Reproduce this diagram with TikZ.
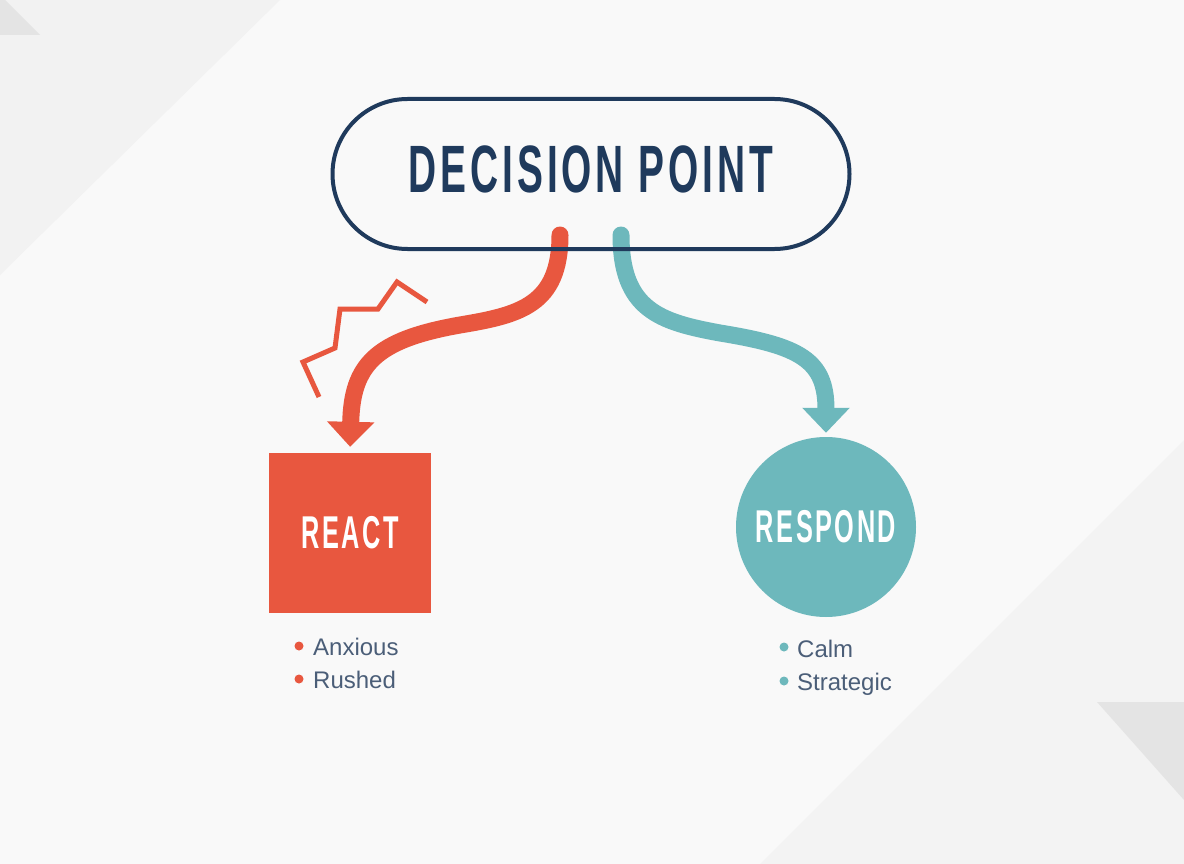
\documentclass[tikz,border=0pt]{standalone}
\usepackage{fontspec}
\setmainfont{Liberation Sans}
\usepackage{graphicx}
\usetikzlibrary{arrows.meta,positioning,shapes.geometric}
\definecolor{navy}{HTML}{1F3A5C}
\definecolor{reactred}{HTML}{E8573F}
\definecolor{respondteal}{HTML}{6DB8BC}
\definecolor{slate}{HTML}{4B5E78}
\definecolor{bgbase}{HTML}{F9F9F9}
\definecolor{bgleft}{HTML}{F2F2F2}
\definecolor{bgright}{HTML}{F3F3F3}
\definecolor{bgshade}{HTML}{E4E4E4}
\newcommand{\heading}[2]{\scalebox{#1}[1]{\addfontfeature{LetterSpace=10}\bfseries #2}}

\begin{document}
\begin{tikzpicture}[x=1pt, y=-1pt, >=stealth,
      decision/.style={draw=navy, line width=4pt, rounded corners=75pt, minimum width=517pt, minimum height=150pt, inner sep=0pt, text=navy, text height=48pt, text depth=10pt, font=\fontsize{67}{67}\selectfont},
      reactbox/.style={fill=reactred, minimum width=162pt, minimum height=160pt, inner sep=0pt, text=white, font=\fontsize{46}{46}\selectfont},
      respondbox/.style={circle, fill=respondteal, minimum size=180pt, inner sep=0pt, text=white, font=\fontsize{46}{46}\selectfont},
      bullet/.style={circle, inner sep=0pt, minimum size=9pt},
      item/.style={anchor=base west, inner sep=0pt, text=slate, font=\fontsize{24}{24}\selectfont},
      flow/.style={line width=17pt, line cap=round, -{Triangle[width=46pt,length=25pt]}}]
      % background
      \fill[bgbase] (0,0) rectangle (1184,864);
      \fill[bgleft] (0,0) -- (280,0) -- (0,275) -- cycle;
      \fill[bgshade] (0,0) -- (5,0) -- (40,35) -- (0,35) -- cycle;
      \fill[bgright] (1184,440) -- (760,864) -- (1184,864) -- cycle;
      \fill[bgshade] (1097,702) -- (1184,702) -- (1184,800) -- cycle;
      \useasboundingbox (0,0) rectangle (1184,864);
      \node[reactbox] (react) at (350,533) {\heading{0.55}{REACT}};
      \node[respondbox] (respond) at (826,527) {\heading{0.55}{RESPOND}};
      \coordinate (dpL) at (560,235);
      \coordinate (dpR) at (621,235);
      \draw[flow, reactred, shorten >=6pt] (dpL) .. controls (560,305) and (520,315) .. (460,325) .. controls (375,340) and (352,365) .. (react.north);
      \draw[flow, respondteal, shorten >=4pt] (dpR) .. controls (621,310) and (660,322) .. (720,333) .. controls (800,346) and (826,360) .. (respond.north);
      \node[decision] (dp) at (591,174) {\heading{0.58}{DECISION POINT}};
      % stress mark
      \draw[reactred, line width=5pt, line join=miter] (427,302) -- (397,282) -- (378,309) -- (340,309) -- (335,348) -- (303,362) -- (319,397);
      \node[bullet, fill=reactred] (b1) at (299,646) {};
      \node[item] (anxious) at (313,655) {Anxious};
      \node[bullet, fill=reactred] (b2) at (299,679) {};
      \node[item] (rushed) at (313,688) {Rushed};
      \node[bullet, fill=respondteal] (b3) at (784,647) {};
      \node[item] (calm) at (797,657) {Calm};
      \node[bullet, fill=respondteal] (b4) at (784,681) {};
      \node[item] (strategic) at (797,690) {Strategic};
\end{tikzpicture}
\end{document}
